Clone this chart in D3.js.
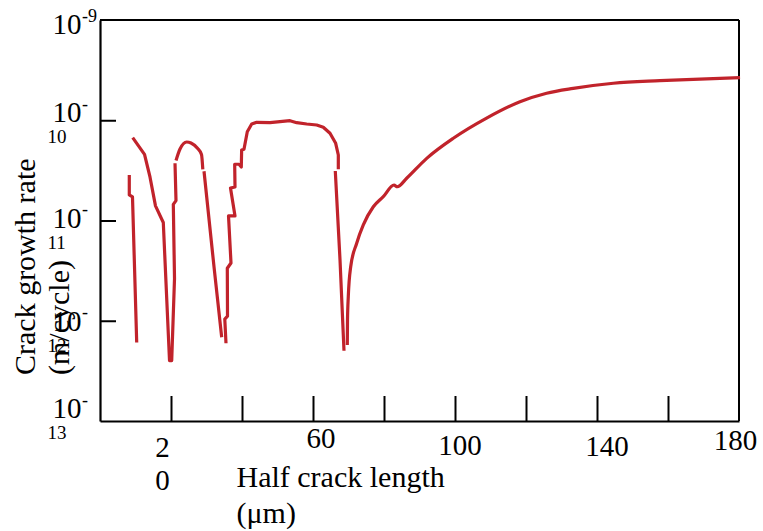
<!DOCTYPE html>
<html>
<head>
<meta charset="utf-8">
<script src="https://cdn.jsdelivr.net/npm/d3@7"></script>
<style>
  html, body { margin: 0; padding: 0; background: #fff; }
  svg { display: block; }
  text { font-family: "Liberation Serif", "Times New Roman", serif; fill: #000; }
</style>
</head>
<body>
<svg id="chart" width="763" height="531"></svg>
<script>
// ---- Data (half crack length in µm, crack growth rate in m/cycle) ----
const seg1 = [[8.25,2.84e-11],[8.25,1.80e-11],[9.15,1.72e-11],[10.34,6.07e-13]];
const seg2 = [[9.21,6.70e-11],[12.54,4.57e-11],[14.08,2.72e-11],[15.63,1.40e-11],[17.83,9.55e-12],
              [19.58,4.01e-13],[20.2,4.01e-13],[20.99,2.64e-12],[20.65,1.45e-11],[21.41,1.58e-11],[21.13,3.72e-11]];
const seg3 = [[21.41,3.97e-11],[22.54,5.17e-11],[24.42,6.07e-11],[25.63,5.93e-11],[27.46,5.25e-11],
              [28.59,4.55e-11],[28.96,3.24e-11]];
const seg4 = [[29.3,3.10e-11],[32.11,3.46e-12],[34.28,6.84e-13]];
const seg5 = [[35.49,5.96e-13],[35.15,1.04e-12],[35.92,1.11e-12],[35.86,3.34e-12],[36.9,3.77e-12],
              [36.2,1.11e-11],[38.03,1.11e-11],[36.76,2.11e-11],[38.03,2.16e-11],[37.94,3.64e-11],
              [39.15,3.64e-11],[39.8,3.42e-11],[39.9,5.05e-11],[40.56,5.14e-11],[41.49,7.69e-11],
              [42.73,9.18e-11],[44.14,9.54e-11],[47.89,9.46e-11],[50.7,9.68e-11],[53.52,9.90e-11],
              [55.41,9.46e-11],[58.23,9.18e-11],[61.04,8.97e-11],[62.9,8.51e-11],[64.79,7.41e-11],
              [66.39,5.89e-11],[67.13,4.50e-11],[67.13,3.24e-11]];
const seg6 = [[66.28,3.12e-11],[67.61,4.04e-12],[68.73,5.02e-13]];
const seg7 = [[69.66,5.73e-13],[69.72,1.02e-12],[69.94,1.74e-12],[70.62,3.46e-12],[72.31,5.93e-12],
              [74.17,9.02e-12],[76.99,1.37e-11],[79.8,1.73e-11],[82.82,2.26e-11],[83.75,2.17e-11],
              [86.39,2.64e-11],[92.03,4.17e-11],[99.52,6.61e-11],[108.9,1.05e-10],[118.3,1.53e-10],
              [125.8,1.86e-10],[133.3,2.08e-10],[144.6,2.34e-10],[157.7,2.48e-10],[167.1,2.56e-10],
              [180.3,2.66e-10]];

const xTickValues = [20, 40, 60, 80, 100, 120, 140, 160];
const xLabelValues = [20, 60, 100, 140, 180];
const xLabelLines = [["2","0"], ["60"], ["100"], ["140"], ["180"]];

const yTickValues = [1e-9, 1e-10, 1e-11, 1e-12, 1e-13];
const yLabelBase = ["10", "10", "10", "10", "10"];
const yLabelSup = ["-9", "-", "-", "-", "-"];
const yLabelWrap = ["", "10", "11", "12", "13"];

const xTitleLines = ["Half crack length", "(\u03bcm)"];
const yTitleLines = ["Crack growth rate", "(m/cycle)"];

// ---- Layout ----
(function () {
const svg = d3.select("#chart");
const mLeft = 100, mRight = 739, mTop = 20, mBottom = 421;
const x = d3.scaleLinear().domain([0, 180]).range([mLeft, mRight]);
const y = d3.scaleLog().domain([1e-13, 1e-9]).range([mBottom, mTop]);
const red = "#c1232b";

// per-label nudges (layout only)
const xLabelDx = [-8.5, 8, 5, 10, -3.5];
const xLabelBaseline = [456.5, 447.5, 455, 455.5, 450];
const yLabelDy = [14, 2, 7, 10, -3];

// frame: top & right lines
svg.append("line").attr("x1", mLeft).attr("x2", mRight).attr("y1", mTop).attr("y2", mTop)
  .attr("stroke", "#000").attr("stroke-width", 2);
svg.append("line").attr("x1", mRight).attr("x2", mRight).attr("y1", mTop).attr("y2", mBottom)
  .attr("stroke", "#000").attr("stroke-width", 2);

// x axis (inward ticks)
const gx = svg.append("g").attr("transform", `translate(0,${mBottom})`)
  .call(d3.axisBottom(x).tickValues(xTickValues).tickSize(-25).tickSizeOuter(0).tickFormat(""));
gx.select(".domain").attr("stroke", "#000").attr("stroke-width", 2.2);
gx.selectAll(".tick line").attr("stroke", "#000").attr("stroke-width", 2);

// y axis (inward ticks)
const gy = svg.append("g").attr("transform", `translate(${mLeft},0)`)
  .call(d3.axisLeft(y).tickValues([1e-10, 1e-11, 1e-12]).tickSize(-16).tickSizeOuter(0).tickFormat(""));
gy.select(".domain").attr("stroke", "#000").attr("stroke-width", 2.2);
gy.selectAll(".tick line").attr("stroke", "#000").attr("stroke-width", 2);

// x tick labels
xLabelValues.forEach((v, i) => {
  const t = svg.append("text")
    .attr("text-anchor", "middle")
    .attr("font-size", 29);
  xLabelLines[i].forEach((s, j) => {
    t.append("tspan")
      .attr("x", x(v) + xLabelDx[i])
      .attr("y", xLabelBaseline[i] + j * 33.5)
      .text(s);
  });
});

// y tick labels
yTickValues.forEach((v, i) => {
  const by = y(v) + yLabelDy[i];
  svg.append("text").attr("x", 81.5).attr("y", by).attr("text-anchor", "end")
    .attr("font-size", 29).text(yLabelBase[i]);
  svg.append("text").attr("x", 82).attr("y", by - 12.5).attr("font-size", 18).text(yLabelSup[i]);
  if (yLabelWrap[i]) {
    svg.append("text").attr("x", 47.5).attr("y", by + 21).attr("font-size", 19).text(yLabelWrap[i]);
  }
});

// axis titles
svg.append("text").attr("x", 236.5).attr("y", 487).attr("font-size", 30).text(xTitleLines[0]);
svg.append("text").attr("x", 236.5).attr("y", 523).attr("font-size", 30).text(xTitleLines[1]);

yTitleLines.forEach((s, j) => {
  svg.append("text")
    .attr("transform", `translate(${35 + j * 34},375) rotate(-90)`)
    .attr("font-size", 30)
    .text(s);
});

// curve segments
const segments = [seg1, seg2, seg3, seg4, seg5, seg6, seg7];
const smooth = new Set([2, 6]);
segments.forEach((seg, i) => {
  const line = d3.line()
    .x(d => x(d[0]))
    .y(d => y(d[1]))
    .curve(smooth.has(i) ? d3.curveMonotoneX : d3.curveLinear);
  svg.append("path")
    .datum(seg)
    .attr("d", line)
    .attr("fill", "none")
    .attr("stroke", red)
    .attr("stroke-width", 3.2)
    .attr("stroke-linejoin", "round");
});
})();
</script>
</body>
</html>
